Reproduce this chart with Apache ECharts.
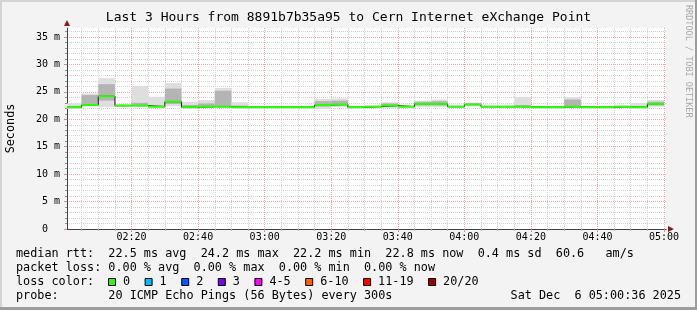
<!DOCTYPE html>
<html><head><meta charset="utf-8">
<script src="https://cdn.jsdelivr.net/npm/echarts@6/dist/echarts.min.js"></script>
<style>html,body{margin:0;padding:0;background:#f3f3f3;}#c{width:697px;height:310px;}</style>
</head><body><div id="c"></div>
<script>
const titleText = 'Last 3 Hours from 8891b7b35a95 to Cern Internet eXchange Point';
// minutes after 02:00 at which each 5-minute step starts (first one is partial)
const segStart = [0.6,5,10,15,20,25,30,35,40,45,50,55,60,65,70,75,80,85,90,95,100,105,110,115,120,125,130,135,140,145,150,155,160,165,170,175];
const lastEnd = 180;
const xMin = 0.6, xMax = 180.6;
// median rtt (ms)
const median = [22.2,22.6,24.2,22.5,22.5,22.3,23.2,22.2,22.3,22.3,22.2,22.2,22.2,22.2,22.2,22.6,22.7,22.2,22.3,22.5,22.3,22.8,22.8,22.3,22.7,22.3,22.3,22.3,22.2,22.2,22.3,22.2,22.2,22.3,22.2,22.8];
// smoke: full spread of pings and inner (denser) spread
const smokeMin = [21.9,22.35,22.2,22.3,22.3,22.1,22.4,22.0,22.1,22.1,22.0,22.0,22.0,22.0,22.0,21.9,22.2,22.0,22.1,22.1,22.1,22.2,22.2,22.1,22.4,22.1,22.1,22.1,22.0,22.0,22.1,22.0,22.0,22.1,22.0,22.3];
const smokeMax = [22.9,24.7,27.5,22.8,26.1,24.1,26.6,23.2,23.5,25.7,23.1,22.4,22.4,22.4,22.4,23.7,23.8,22.4,22.5,23.1,22.5,23.4,23.6,22.5,23.0,22.5,22.5,24.1,22.4,22.4,24.0,22.4,22.4,22.5,23.0,23.5];
const coreLo = [22.1,22.5,23.4,22.4,22.6,22.2,22.8,22.1,22.2,22.3,22.1,22.1,22.1,22.1,22.1,22.3,22.5,22.1,22.2,22.3,22.2,22.5,22.5,22.2,22.5,22.2,22.2,22.2,22.1,22.1,22.4,22.1,22.1,22.2,22.1,22.5];
const coreHi = [22.4,24.4,26.4,22.6,23.0,22.5,25.6,22.6,22.9,25.2,22.5,22.3,22.3,22.3,22.3,23.3,23.4,22.3,22.4,22.9,22.4,23.2,23.3,22.4,22.9,22.4,22.4,22.6,22.3,22.3,23.6,22.3,22.3,22.4,22.4,23.2];
const xTickMinutes = [20,40,60,80,100,120,140,160,180];
const xTickLabels = ['02:20','02:40','03:00','03:20','03:40','04:00','04:20','04:40','05:00'];
const yMax = 36.64;
const yMajor = [0,5,10,15,20,25,30,35];
const yMajorLabels = ['0  ','5 m','10 m','15 m','20 m','25 m','30 m','35 m'];
const statLines = [
  'median rtt:  22.5 ms avg  24.2 ms max  22.2 ms min  22.8 ms now  0.4 ms sd  60.6   am/s',
  'packet loss: 0.00 % avg  0.00 % max  0.00 % min  0.00 % now',
  'loss color:',
  'probe:       20 ICMP Echo Pings (56 Bytes) every 300s'
];
const dateText = 'Sat Dec  6 05:00:36 2025';
const lossLabels = ['0','1','2','3','4-5','6-10','11-19','20/20'];
const lossColors = ['#26ff00','#00b8ff','#0059ff','#7e00ff','#ff00ff','#ff5e00','#ff0000','#a10000'];

const FONT = 'DejaVu Sans Mono';
const minorX = []; for (let m = 5; m <= 180; m += 5) minorX.push(m);
const minorY = []; for (let v = 0; v <= 36; v++) minorY.push(v);
const segEnd = segStart.map((s, i) => i < segStart.length - 1 ? segStart[i + 1] : lastEnd);

const chart = echarts.init(document.getElementById('c'), null, {renderer: 'canvas'});
const gridDash = {type: [1, 1], width: 1};

const graphics = [
  {type: 'rect', shape: {x: 0, y: 0, width: 697, height: 2}, style: {fill: '#d4d4d4'}, silent: true},
  {type: 'rect', shape: {x: 0, y: 0, width: 2, height: 310}, style: {fill: '#d4d4d4'}, silent: true},
  {type: 'rect', shape: {x: 0, y: 307, width: 697, height: 3}, style: {fill: '#9c9c9c'}, silent: true},
  {type: 'rect', shape: {x: 695, y: 0, width: 2, height: 310}, style: {fill: '#9c9c9c'}, silent: true},
  {type: 'text', x: 688, y: 5, rotation: -Math.PI / 2, silent: true,
   style: {text: 'RRDTOOL / TOBI OETIKER', fontFamily: FONT, fontSize: 8.5, fill: '#a8a8a8', verticalAlign: 'middle', align: 'left'}}
];
const lineYs = [254, 268, 282, 296];
statLines.forEach((t, i) => graphics.push({type: 'text', x: 16, y: lineYs[i], silent: true,
  style: {text: t, fontFamily: FONT, fontSize: 11.8, fill: '#000', verticalAlign: 'middle', align: 'left'}}));
graphics.push({type: 'text', x: 681, y: lineYs[3], silent: true,
  style: {text: dateText, fontFamily: FONT, fontSize: 11.8, fill: '#000', verticalAlign: 'middle', align: 'right'}});
const charW = 7.1;
let bx = 108.5;
lossLabels.forEach((lab, i) => {
  graphics.push({type: 'rect', silent: true, shape: {x: bx, y: 278.5, width: 7, height: 7},
    style: {fill: lossColors[i], stroke: '#000', lineWidth: 1}});
  const lx = bx + 14.5;
  graphics.push({type: 'text', x: lx, y: lineYs[2], silent: true,
    style: {text: lab, fontFamily: FONT, fontSize: 11.8, fill: '#000', verticalAlign: 'middle', align: 'left'}});
  bx = lx + lab.length * charW + 15;
});

const option = {
  animation: false,
  backgroundColor: '#f3f3f3',
  title: {text: titleText, left: 'center', top: 6,
    textStyle: {fontFamily: FONT, fontSize: 13, fontWeight: 'normal', color: '#000'}},
  grid: {left: 67, right: 31, top: 28, bottom: 81, show: true, backgroundColor: '#ffffff', borderWidth: 0,
    containLabel: false, outerBoundsMode: 'none'},
  xAxis: [
    {type: 'value', min: xMin, max: xMax, position: 'bottom',
     axisLine: {show: true, onZero: false, lineStyle: {color: '#404040', width: 1}},
     axisTick: {show: true, customValues: minorX, length: 2, lineStyle: {color: '#b0b0b0'}},
     axisLabel: {show: false},
     splitLine: {show: true, lineStyle: Object.assign({color: '#d2d2d2'}, gridDash)}},
    {type: 'value', min: xMin, max: xMax, position: 'bottom',
     axisLine: {show: true, onZero: false, symbol: ['none', 'triangle'], symbolSize: [6, 6], symbolOffset: [0, 5],
       lineStyle: {color: '#8b1a1a', width: 0}},
     axisTick: {show: true, customValues: xTickMinutes, length: 3, lineStyle: {color: '#e08888'}},
     axisLabel: {show: true, customValues: xTickMinutes, margin: 3,
       formatter: v => xTickLabels[xTickMinutes.indexOf(Math.round(v))] || '',
       fontFamily: FONT, fontSize: 10, color: '#000'},
     splitLine: {show: true, lineStyle: Object.assign({color: '#f0a6a6'}, gridDash)}}
  ],
  yAxis: [
    {type: 'value', min: 0, max: yMax, position: 'left',
     axisLine: {show: true, onZero: false, lineStyle: {color: '#404040', width: 1}},
     axisTick: {show: true, customValues: minorY, length: 2, lineStyle: {color: '#909090'}},
     axisLabel: {show: false},
     splitLine: {show: true, lineStyle: Object.assign({color: '#d2d2d2'}, gridDash)}},
    {type: 'value', min: 0, max: yMax, position: 'left',
     name: 'Seconds', nameLocation: 'middle', nameGap: 50, nameRotate: 90, nameMoveOverlap: false,
     nameTextStyle: {fontFamily: FONT, fontSize: 11.8, color: '#000'},
     axisLine: {show: true, onZero: false, symbol: ['none', 'triangle'], symbolSize: [6, 6], symbolOffset: [0, 5],
       lineStyle: {color: '#8b1a1a', width: 0}},
     axisTick: {show: true, customValues: yMajor, length: 3, lineStyle: {color: '#e08888'}},
     axisLabel: {show: true, customValues: yMajor, margin: 7,
       formatter: v => yMajorLabels[yMajor.indexOf(Math.round(v))] || '',
       fontFamily: FONT, fontSize: 10, color: '#000'},
     splitLine: {show: true, lineStyle: Object.assign({color: '#f0a6a6'}, gridDash)}}
  ],
  series: [
    {type: 'custom', name: 'smoke', xAxisIndex: 0, yAxisIndex: 0, z: 2, silent: true,
     data: segStart.map((s, i) => [s, segEnd[i], smokeMin[i], smokeMax[i], coreLo[i], coreHi[i]]),
     encode: {x: [0, 1], y: [2, 3]},
     renderItem: (params, api) => {
       const s = api.value(0), e = api.value(1);
       const rect = (lo, hi, color) => {
         const p1 = api.coord([s, hi]), p2 = api.coord([e, lo]);
         return {type: 'rect', shape: {x: p1[0], y: p1[1], width: p2[0] - p1[0], height: p2[1] - p1[1]}, style: {fill: color}};
       };
       return {type: 'group', children: [rect(api.value(2), api.value(3), '#dedede'), rect(api.value(4), api.value(5), '#b4b4b4')]};
     }},
    {type: 'line', name: 'median', xAxisIndex: 0, yAxisIndex: 0, z: 3, step: 'end', symbol: 'none', silent: true,
     data: segStart.map((s, i) => [s, median[i]]).concat([[lastEnd, median[median.length - 1]]]),
     lineStyle: {color: '#1a1a1a', width: 1}},
    {type: 'custom', name: 'loss0', xAxisIndex: 0, yAxisIndex: 0, z: 4, silent: true,
     data: segStart.map((s, i) => [s, segEnd[i], median[i]]),
     encode: {x: [0, 1], y: 2},
     renderItem: (params, api) => {
       const p1 = api.coord([api.value(0), api.value(2)]), p2 = api.coord([api.value(1), api.value(2)]);
       return {type: 'line', shape: {x1: p1[0], y1: p1[1], x2: p2[0], y2: p2[1]}, style: {stroke: lossColors[0], lineWidth: 2}};
     }}
  ],
  graphic: graphics
};
chart.setOption(option);
</script></body></html>
